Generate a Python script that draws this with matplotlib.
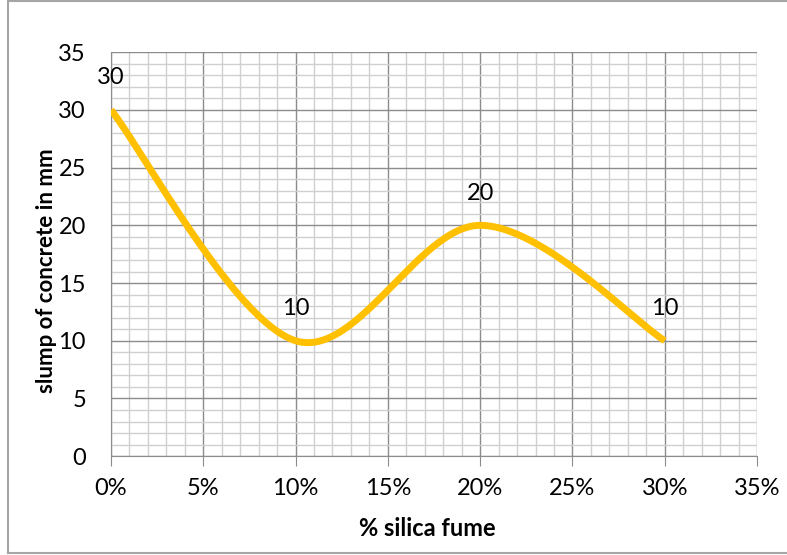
import numpy as np
import matplotlib.pyplot as plt
from matplotlib.lines import Line2D
from matplotlib.ticker import MultipleLocator, PercentFormatter

silica_fume = [0.00, 0.10, 0.20, 0.30]
slump_mm = [30, 10, 20, 10]
point_labels = ['30', '10', '20', '10']


def smooth_curve(xs, ys, n=60):
    # Bezier spline through points, tangents like a spreadsheet "smoothed line"
    p = np.column_stack([xs, ys]).astype(float)
    pts = []
    for i in range(len(p) - 1):
        p0 = p[i - 1] if i > 0 else p[i]
        p1, p2 = p[i], p[i + 1]
        p3 = p[i + 2] if i + 2 < len(p) else p[i + 1]
        c1 = p1 + (p2 - p0) / 6
        c2 = p2 - (p3 - p1) / 6
        t = np.linspace(0, 1, n)[:, None]
        seg = ((1 - t) ** 3) * p1 + 3 * ((1 - t) ** 2) * t * c1 + 3 * (1 - t) * t ** 2 * c2 + t ** 3 * p2
        pts.append(seg if i == 0 else seg[1:])
    pts = np.vstack(pts)
    return pts[:, 0], pts[:, 1]


plt.rcParams['font.family'] = ['Lato', 'DejaVu Sans']

fig = plt.figure(figsize=(7.87, 5.55), dpi=100)
ax = fig.add_axes([0.141, 0.178, 0.821, 0.728])

sx, sy = smooth_curve(silica_fume, slump_mm)
ax.plot(sx, sy, color='#FFC000', linewidth=5.0, solid_capstyle='butt', zorder=3)

for x, y, lab in zip(silica_fume, slump_mm, point_labels):
    ax.annotate(lab, (x, y), xytext=(0, 23), textcoords='offset points',
                ha='center', va='center', fontsize=17, zorder=4)

ax.set_xlim(0, 0.35)
ax.set_ylim(0, 35)
ax.xaxis.set_major_locator(MultipleLocator(0.05))
ax.xaxis.set_minor_locator(MultipleLocator(0.01))
ax.yaxis.set_major_locator(MultipleLocator(5))
ax.yaxis.set_minor_locator(MultipleLocator(1))
ax.xaxis.set_major_formatter(PercentFormatter(1.0, decimals=0))

ax.grid(which='major', color='#8c8c8c', linewidth=1.0)
ax.grid(which='minor', color='#d0d0d0', linewidth=1.0)
ax.set_axisbelow(True)

for side in ['top', 'right']:
    ax.spines[side].set_visible(False)
for side in ['left', 'bottom']:
    ax.spines[side].set_color('#8c8c8c')

ax.tick_params(axis='x', which='major', length=7, color='#8c8c8c', labelsize=17, pad=9)
ax.tick_params(axis='x', which='minor', length=0)
ax.tick_params(axis='y', which='both', length=0, labelsize=17, pad=18)

ax.set_xlabel('% silica fume', fontsize=17, fontweight='bold', va='center')
ax.xaxis.set_label_coords(0.49, -0.178)
ax.set_ylabel('slump of concrete in mm', fontsize=16, fontweight='bold', va='center')
ax.yaxis.set_label_coords(-0.1, 0.458)

# Chart frame: top, left and bottom edges (right edge falls outside the canvas)
frame = dict(transform=fig.transFigure, color='#a6a6a6', linewidth=1.5)
fig.add_artist(Line2D([0.0105, 1.0], [0.998, 0.998], **frame))
fig.add_artist(Line2D([0.0105, 0.0105], [0.004, 0.998], **frame))
fig.add_artist(Line2D([0.0105, 1.0], [0.004, 0.004], **frame))

fig.savefig('out.png', dpi=100)
